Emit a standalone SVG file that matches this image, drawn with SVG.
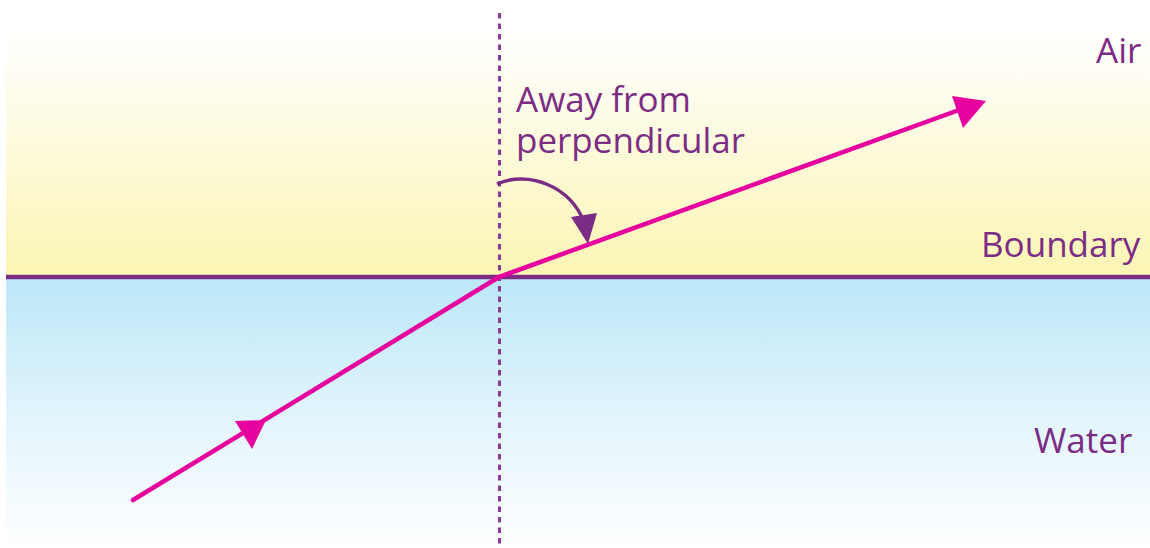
<svg xmlns="http://www.w3.org/2000/svg" width="1150" height="548" viewBox="0 0 1150 548">
  <defs>
    <linearGradient id="airGrad" x1="0" y1="0" x2="0" y2="1">
      <stop offset="0" stop-color="#FFFFFF"/>
      <stop offset="0.15" stop-color="#FFFEF8"/>
      <stop offset="1" stop-color="#FBF5B3"/>
    </linearGradient>
    <linearGradient id="waterGrad" x1="0" y1="0" x2="0" y2="1">
      <stop offset="0" stop-color="#BCE7F8"/>
      <stop offset="0.55" stop-color="#E4F5FC"/>
      <stop offset="1" stop-color="#FFFFFF"/>
    </linearGradient>
    <style>
      .lbl { font-family: "Open Sans", "Noto Sans", sans-serif; font-size: 35px; fill: #7B2C85; }
      .ray { stroke: #E6009E; stroke-width: 4.5; fill: none; stroke-linecap: round; }
      .head { fill: #E6009E; }
    </style>
  </defs>

  <rect width="1150" height="548" fill="#FFFFFF"/>
  <g id="air">
    <rect x="6" y="20" width="1144" height="257" fill="url(#airGrad)"/>
  </g>
  <g id="water">
    <rect x="6" y="277" width="1144" height="271" fill="url(#waterGrad)"/>
  </g>

  <g id="connectors">
    <line id="boundary" x1="6" y1="277" x2="1150" y2="277" stroke="#7B2C85" stroke-width="4.5"/>
    <line id="perpendicular" x1="499.5" y1="13" x2="499.5" y2="548" stroke="#8A3A98" stroke-width="3" stroke-dasharray="5.5 5"/>
    <line id="incident" class="ray" x1="133" y1="500" x2="499" y2="277"/>
    <polygon class="head" points="266,420 235,421 252,449"/>
    <line id="refracted" class="ray" x1="499" y1="277" x2="970" y2="106"/>
    <polygon class="head" points="986,101 952,96 963,128"/>
    <path id="angle-arrow" d="M497,184 C528,170 570,186 584,222" fill="none" stroke="#7B2C85" stroke-width="3.5"/>
    <polygon points="588,244 571,217 597,213" fill="#7B2C85"/>
  </g>

  <g id="label-away">
    <text class="lbl" x="516" y="112">Away from<tspan x="516" y="153">perpendicular</tspan></text>
  </g>
  <g id="label-air">
    <text class="lbl" x="1096" y="63">Air</text>
  </g>
  <g id="label-boundary">
    <text class="lbl" x="981" y="257">Boundary</text>
  </g>
  <g id="label-water">
    <text class="lbl" x="1034" y="453">Water</text>
  </g>
</svg>
